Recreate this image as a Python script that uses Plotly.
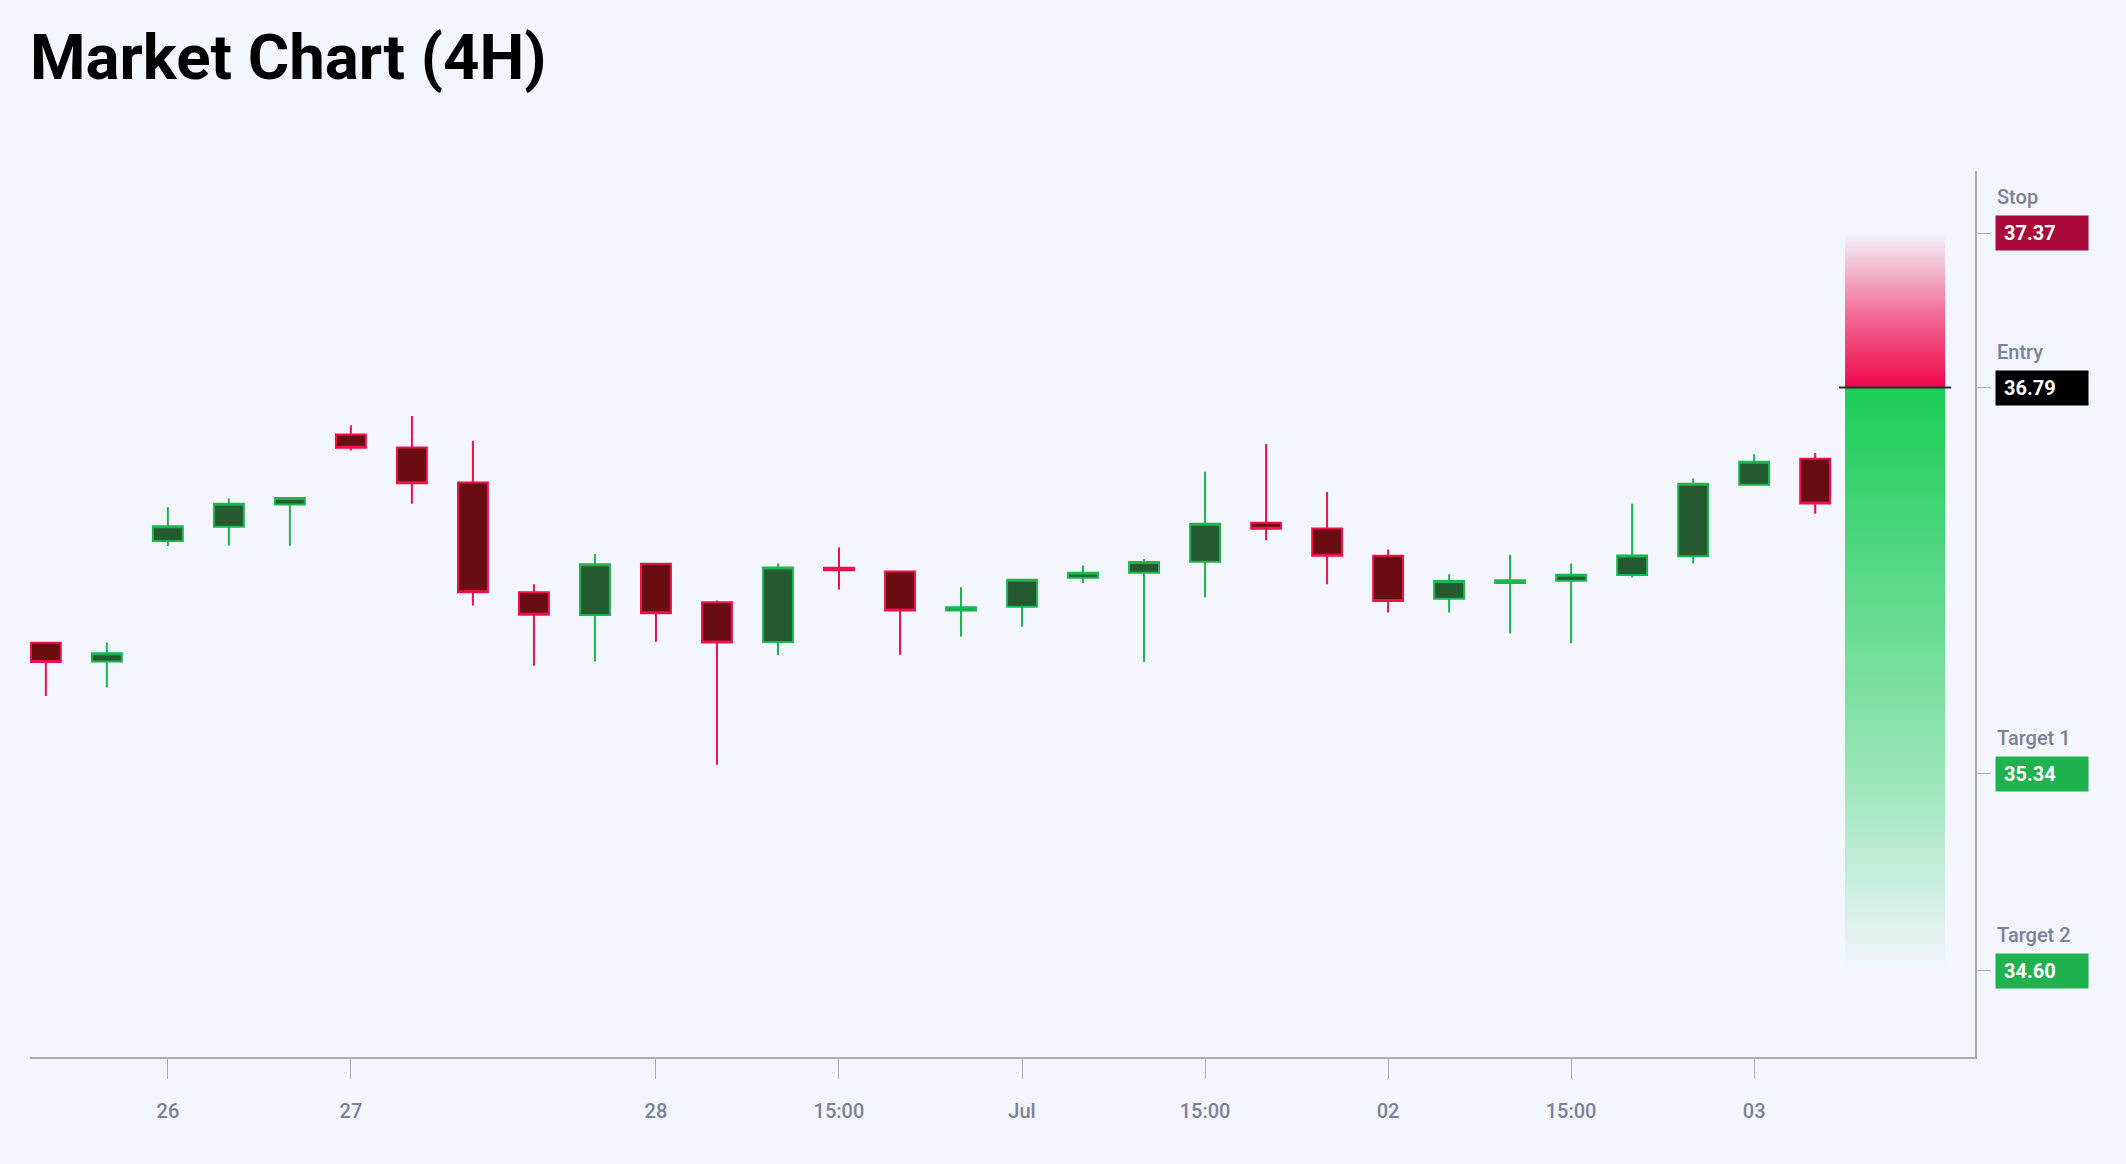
import plotly.graph_objects as go

# 4H candles (x = candle slot)
candle_open = [35.832, 35.762, 36.214, 36.268, 36.351, 36.614, 36.565, 36.434, 36.022, 35.936,
               36.129, 35.984, 35.835, 36.114, 36.100, 35.953, 35.967, 36.076, 36.095, 36.136,
               36.283, 36.261, 36.159, 35.997, 36.056, 36.065, 36.086, 36.157, 36.425, 36.523]
candle_high = [35.836, 35.833, 36.341, 36.374, 36.378, 36.649, 36.683, 36.590, 36.052, 36.165,
               36.131, 35.991, 36.130, 36.190, 36.102, 36.040, 36.071, 36.122, 36.146, 36.474,
               36.578, 36.398, 36.182, 36.089, 36.162, 36.130, 36.354, 36.449, 36.540, 36.544]
candle_low = [35.632, 35.664, 36.195, 36.196, 36.196, 36.554, 36.354, 35.972, 35.746, 35.762,
              35.836, 35.374, 35.786, 36.032, 35.787, 35.856, 35.892, 36.055, 35.761, 36.003,
              36.217, 36.052, 35.946, 35.946, 35.867, 35.830, 36.077, 36.130, 36.423, 36.316]
candle_close = [35.760, 35.793, 36.269, 36.354, 36.375, 36.564, 36.431, 36.022, 35.937, 36.127,
                35.943, 35.833, 36.115, 36.104, 35.953, 35.965, 36.069, 36.095, 36.135, 36.279,
                36.260, 36.159, 35.989, 36.064, 36.067, 36.087, 36.160, 36.429, 36.512, 36.355]

tick_slots = [2, 5, 10, 13, 16, 19, 22, 25, 28]
tick_labels = ["26", "27", "28", "15:00", "Jul", "15:00", "02", "15:00", "03"]

level_names = ["Stop", "Entry", "Target 1", "Target 2"]
level_prices = [37.37, 36.79, 35.34, 34.60]
level_colors = ["#A80A3A", "#000000", "#1FB24F", "#1FB24F"]

stop_price, entry_price, target2_price = 37.37, 36.79, 34.60

BG = "#F3F6FD"
AXIS = "#A9ADB8"
MUTED = "#7C8199"
FONT = "Roboto"

slots = list(range(len(candle_open)))
zone_x0, zone_x1 = 29.49, 31.13

fig = go.Figure()

fig.add_trace(go.Candlestick(
    x=slots,
    open=candle_open,
    high=candle_high,
    low=candle_low,
    close=candle_close,
    increasing=dict(fillcolor="#245A2F", line=dict(color="#1DB550", width=2)),
    decreasing=dict(fillcolor="#690D13", line=dict(color="#F2104C", width=2)),
    whiskerwidth=0,
    showlegend=False,
))

# risk zone: entry -> stop, fading upwards
fig.add_trace(go.Scatter(
    x=[zone_x0, zone_x1, zone_x1, zone_x0, zone_x0],
    y=[entry_price, entry_price, stop_price, stop_price, entry_price],
    mode="lines",
    line=dict(width=0),
    fill="toself",
    fillgradient=dict(
        type="vertical",
        colorscale=[[0, "rgba(240,6,74,1)"], [0.5, "rgba(240,6,74,0.55)"], [1, "rgba(240,6,74,0)"]],
    ),
    hoverinfo="skip",
    showlegend=False,
))

# reward zone: target 2 -> entry, solid at entry
fig.add_trace(go.Scatter(
    x=[zone_x0, zone_x1, zone_x1, zone_x0, zone_x0],
    y=[target2_price, target2_price, entry_price, entry_price, target2_price],
    mode="lines",
    line=dict(width=0),
    fill="toself",
    fillgradient=dict(
        type="vertical",
        colorscale=[[0, "rgba(26,205,85,0)"], [0.34, "rgba(26,205,85,0.42)"], [1, "rgba(26,205,85,1)"]],
    ),
    hoverinfo="skip",
    showlegend=False,
))

# entry line
fig.add_trace(go.Scatter(
    x=[zone_x0 - 0.1, zone_x1 + 0.1],
    y=[entry_price, entry_price],
    mode="lines",
    line=dict(color="#2B2D33", width=2),
    hoverinfo="skip",
    showlegend=False,
))

for name, price, color in zip(level_names, level_prices, level_colors):
    fig.add_annotation(
        x=1, xref="paper", y=price, yref="y",
        xanchor="left", yanchor="middle", xshift=20,
        text="<b>%.2f</b>" % price,
        font=dict(family=FONT, size=20, color="white"),
        bgcolor=color, width=76, height=18, borderpad=8,
        align="left", showarrow=False,
    )
    fig.add_annotation(
        x=1, xref="paper", y=price, yref="y",
        xanchor="left", yanchor="middle", xshift=20, yshift=36,
        text=name,
        font=dict(family=FONT, size=20, color=MUTED, weight=500),
        align="left", showarrow=False,
    )

fig.update_layout(
    width=2126,
    height=1164,
    margin=dict(l=30, r=151, t=171, b=107),
    paper_bgcolor=BG,
    plot_bgcolor=BG,
    font=dict(family=FONT, size=20, color=MUTED),
    title=dict(
        text="<b>Market Chart (4H)</b>",
        font=dict(family=FONT, size=63.5, color="#000000"),
        x=30 / 2126, xref="container", xanchor="left",
        y=1 - 57 / 1164, yref="container", yanchor="middle",
    ),
    showlegend=False,
)

fig.update_xaxes(
    range=[-0.26, 31.62],
    rangeslider=dict(visible=False),
    tickmode="array",
    tickvals=tick_slots,
    ticktext=tick_labels,
    ticks="outside",
    ticklen=20,
    tickwidth=1,
    tickcolor=AXIS,
    ticklabelstandoff=15,
    tickfont=dict(family=FONT, size=20, color=MUTED, weight=500),
    showline=True,
    linecolor=AXIS,
    linewidth=2,
    showgrid=False,
    zeroline=False,
)

fig.update_yaxes(
    side="right",
    range=[34.277, 37.603],
    tickmode="array",
    tickvals=level_prices,
    ticks="outside",
    ticklen=14,
    tickwidth=1,
    tickcolor=AXIS,
    showticklabels=False,
    showline=True,
    linecolor=AXIS,
    linewidth=2,
    showgrid=False,
    zeroline=False,
)

# drop the browser's default body margin so the figure fills the window
fig.write_html(
    "out.html",
    config={"displayModeBar": False},
    post_script="document.body.style.margin='0';document.body.style.background='%s';" % BG,
)
